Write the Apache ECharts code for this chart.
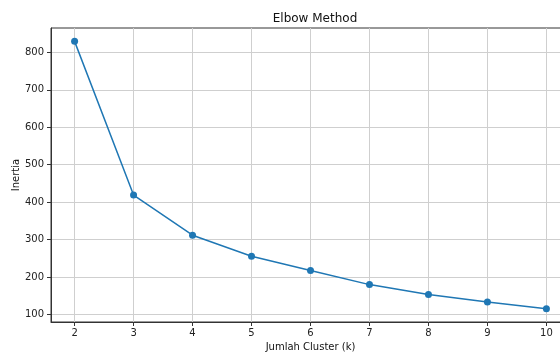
<!DOCTYPE html>
<html><head><meta charset="utf-8">
<script src="https://cdn.jsdelivr.net/npm/echarts@6/dist/echarts.min.js"></script>
<style>html,body{margin:0;padding:0;background:#fff}#c{width:560px;height:352px}</style>
</head><body><div id="c"></div>
<script>
const kValues = [2, 3, 4, 5, 6, 7, 8, 9, 10];
const inertia = [829.5, 418.8, 311.6, 255.4, 217, 179.5, 152.8, 133, 115.3];
const xTicks = [2, 3, 4, 5, 6, 7, 8, 9, 10];
const yTicks = [100, 200, 300, 400, 500, 600, 700, 800];

const xMin = 1.6, xMax = 10.4;
const yMin = 79.6, yMax = 865.2;
const font = 'DejaVu Sans';
const chart = echarts.init(document.getElementById('c'), null, {renderer: 'canvas'});
chart.setOption({
  animation: false,
  backgroundColor: '#ffffff',
  title: {text: 'Elbow Method', left: 310, top: 8, textAlign: 'center',
    textStyle: {fontFamily: font, fontSize: 12, fontWeight: 'normal', color: '#111'}},
  grid: {left: 51, top: 28, right: -10, bottom: 30, containLabel: false, outerBoundsMode: 'none',
    show: true, borderColor: '#333', borderWidth: 1},
  xAxis: {type: 'value', min: xMin, max: xMax,
    name: 'Jumlah Cluster (k)', nameLocation: 'middle', nameGap: 20, nameMoveOverlap: false,
    nameTextStyle: {fontFamily: font, fontSize: 10, color: '#111'},
    axisLine: {show: true, lineStyle: {color: '#333', width: 1}},
    axisTick: {show: true, length: 4, customValues: xTicks, lineStyle: {color: '#333'}},
    axisLabel: {customValues: xTicks, margin: 6, fontFamily: font, fontSize: 10, color: '#222'},
    splitLine: {show: true, customValues: xTicks, lineStyle: {color: '#cfcfcf', width: 1}}
  },
  yAxis: {type: 'value', min: yMin, max: yMax,
    name: 'Inertia', nameLocation: 'middle', nameGap: 30, nameRotate: 90, nameMoveOverlap: false,
    nameTextStyle: {fontFamily: font, fontSize: 10, color: '#111'},
    axisLine: {show: true, lineStyle: {color: '#333', width: 1}},
    axisTick: {show: true, length: 4, customValues: yTicks, lineStyle: {color: '#333'}},
    axisLabel: {customValues: yTicks, margin: 7, fontFamily: font, fontSize: 10, color: '#222'},
    splitLine: {show: true, customValues: yTicks, lineStyle: {color: '#cfcfcf', width: 1}}
  },
  series: [{type: 'line', data: kValues.map((k, i) => [k, inertia[i]]),
    symbol: 'circle', symbolSize: 7, showSymbol: true,
    lineStyle: {color: '#1f77b4', width: 1.5},
    itemStyle: {color: '#1f77b4'}
  }]
});
</script></body></html>
